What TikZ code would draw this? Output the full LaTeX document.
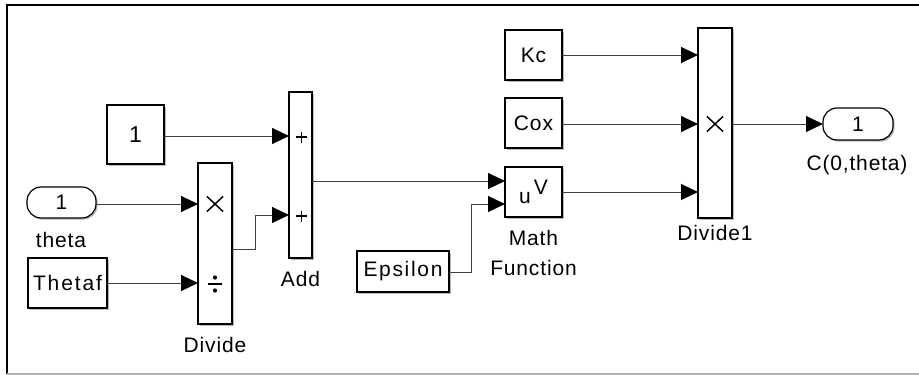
\documentclass[tikz,border=0pt]{standalone}
\usepackage{fontspec}
\setmainfont[LetterSpace=4]{Liberation Sans}
\usetikzlibrary{arrows.meta,shadows}
\begin{document}
\begin{tikzpicture}[x=1pt,y=-1pt,
  font=\fontsize{21}{23}\selectfont,
  blk/.style={draw=black, line width=1.2pt, fill=white, inner sep=0pt, outer sep=0pt,
    drop shadow={shadow xshift=1.6pt, shadow yshift=-1.6pt, fill=black!45, opacity=0.6}},
  port/.style={blk, rounded corners=14pt},
  lbl/.style={inner sep=0pt, align=center},
  xmark/.style={draw=black, line width=1.5pt},
  pmark/.style={draw=black, line width=1.9pt},
  conn/.style={draw=black!75, line width=1pt, -{Triangle[length=17pt,width=16pt,color=black]}}
]
\useasboundingbox (0,0) rectangle (919,375);
\fill[white] (0,0) rectangle (919,375);
% frame
\coordinate (ftl) at (7,5);
\coordinate (ftr) at (919,5);
\coordinate (fbl) at (7,374);
\coordinate (fbr) at (919,374);
\draw[line width=2.2pt, black] (ftr) -- (ftl) -- (fbl);
\draw[line width=2pt, black!30] (fbl) -- (fbr);

% blocks
\node[blk, minimum width=57pt, minimum height=59pt, font=\fontsize{23}{23}\selectfont] (c1) at (135.5,134.5) {1};
\node[port, minimum width=69pt, minimum height=31pt] (theta) at (61.5,202.5) {1};
\node[lbl] (thetal) at (61,240) {theta};
\node[blk, minimum width=79pt, minimum height=50pt] (thetaf) at (67.5,283) {\addfontfeature{LetterSpace=9}Thetaf};
\node[blk, minimum width=34pt, minimum height=161pt] (div) at (215,243.5) {};
\coordinate (divx) at (215,204);
\draw[xmark] (207,196.5) -- (223,211.5) (207,211.5) -- (223,196.5);
\coordinate (divd) at (215,283);
\draw[line width=1.3pt] (208,284) -- (222,284);
\fill (215,277.5) circle (2.1pt) (215,290.5) circle (2.1pt);
\node[lbl] (divl) at (215,345) {Divide};
\node[blk, minimum width=23pt, minimum height=166pt] (add) at (300.5,175) {};
\coordinate (addp1) at (301,136);
\coordinate (addp2) at (301,215);
\draw[pmark] (296,137) -- (307,137) (301.5,131.5) -- (301.5,142.5);
\draw[pmark] (296,216) -- (307,216) (301.5,210.5) -- (301.5,221.5);
\node[lbl] (addl) at (300.5,279) {Add};
\node[blk, minimum width=92pt, minimum height=41pt] (eps) at (403,271.5) {\addfontfeature{LetterSpace=8}Epsilon};
\node[blk, minimum width=57pt, minimum height=50pt] (math) at (533.5,192) {u\kern3pt\raisebox{9pt}{V}};
\node[lbl, font=\fontsize{21}{30}\selectfont] (mathl) at (533.5,253) {Math\\Function};
\node[blk, minimum width=57pt, minimum height=50pt] (kc) at (533.5,55) {Kc};
\node[blk, minimum width=57pt, minimum height=50pt] (cox) at (533.5,123) {Cox};
\node[blk, minimum width=34pt, minimum height=190pt] (div1) at (715,123) {};
\coordinate (div1x) at (715,124);
\draw[xmark] (707,116.5) -- (723,131.5) (707,131.5) -- (723,116.5);
\node[lbl] (div1l) at (715,233) {Divide1};
\node[port, minimum width=70pt, minimum height=32pt] (out) at (858,124) {1};
\node[lbl] (outl) at (857,165) {C(0,theta)};

% connectors
\draw[conn] (c1.east |- addp1) -- (add.west |- addp1);
\draw[conn] (theta.east |- divx) -- (div.west |- divx);
\draw[conn] (thetaf.east |- divd) -- (div.west |- divd);
\coordinate (dv1) at (255,249);
\draw[conn] (div.east |- dv1) -- (dv1) |- (add.west |- addp2);
\coordinate (ao) at (312,181);
\draw[conn] (add.east |- ao) -- (math.west |- ao);
\coordinate (ep1) at (471,272);
\coordinate (mi2) at (505,204);
\draw[conn] (eps.east |- ep1) -- (ep1) |- (math.west |- mi2);
\draw[conn] (kc.east) -- (div1.west |- kc.east);
\draw[conn] (cox.east |- div1x) -- (div1.west |- div1x);
\draw[conn] (math.east) -- (div1.west |- math.east);
\draw[conn] (div1.east |- div1x) -- (out.west |- div1x);
\end{tikzpicture}
\end{document}
